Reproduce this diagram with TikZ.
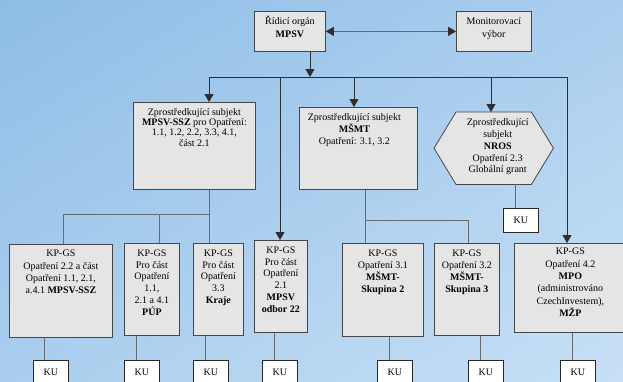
\documentclass[tikz,border=0pt]{standalone}
\usepackage{fontspec}
\setmainfont{Liberation Serif}
\usetikzlibrary{arrows.meta,calc,shadings}
\definecolor{bgA}{RGB}{143,189,230}
\definecolor{bgB}{RGB}{200,224,246}
\definecolor{bgM}{RGB}{170,206,238}
\definecolor{boxfill}{RGB}{229,229,229}
\definecolor{boxline}{RGB}{70,70,70}
\definecolor{conn}{RGB}{105,105,110}
\definecolor{arr}{RGB}{45,45,50}
\begin{document}
\begin{tikzpicture}[x=1pt,y=-1pt,
  box/.style={draw=boxline, fill=boxfill, line width=0.8pt, inner sep=0pt, anchor=north west},
  ghost/.style={inner sep=0pt, anchor=north west},
  kubox/.style={draw=black!85, fill=white, line width=0.8pt, inner sep=0pt, anchor=north west,
    minimum width=35pt, minimum height=24pt, font=\fontsize{10}{12}\selectfont},
  txt/.style={anchor=north, inner sep=0pt, align=center, font=\fontsize{10}{11.8}\selectfont},
  conline/.style={draw=conn, line width=0.8pt},
  arrline/.style={draw=arr, line width=0.8pt, -{Triangle[width=9pt,length=8pt]}},
  dblline/.style={draw=conn, line width=0.8pt, {Triangle[width=9pt,length=8pt,fill=arr,color=arr]}-{Triangle[width=9pt,length=8pt,fill=arr,color=arr]}},
]
\clip (0,0) rectangle (623,381);
\useasboundingbox (0,0) rectangle (623,381);
\shade[upper left=bgA, lower right=bgB, upper right=bgM, lower left=bgM] (0,0) rectangle (623,381);

% top level
\node[box, minimum width=71pt, minimum height=40pt] (mpsv) at (254,11) {};
\node[txt, font=\fontsize{10}{13.5}\selectfont] at ([yshift=-4.5pt]mpsv.north) {Řídicí orgán\\\textbf{MPSV}};
\node[box, minimum width=75pt, minimum height=40pt] (mon) at (456,11) {};
\node[txt, font=\fontsize{10}{13}\selectfont] at ([yshift=-6.5pt]mon.north) {Monitorovací\\výbor};
\draw[dblline] (mpsv) -- (mon);

% bus
\coordinate (j0) at (310,77);
\coordinate (bL) at (209,77);
\coordinate (bR) at (567,77);
\coordinate (bA) at (280,77);
\coordinate (bB) at (354,77);
\coordinate (bC) at (491,77);
\draw[arrline] (mpsv.south -| j0) -- (j0);
\draw[draw=arr, line width=0.8pt] (bL) -- (bR);

% second level
\node[box, minimum width=122pt, minimum height=87pt] (ssz) at (133,102) {};
\node[txt, font=\fontsize{10}{10.4}\selectfont] at ([yshift=-6pt]ssz.north) {Zprostředkující subjekt\\\textbf{MPSV-SSZ} pro Opatření:\\1.1, 1.2, 2.2, 3.3, 4.1,\\část 2.1};
\node[box, minimum width=118pt, minimum height=82pt] (msmt) at (299,107) {};
\node[txt, font=\fontsize{10}{12.2}\selectfont] at ([xshift=-4pt,yshift=-6pt]msmt.north) {Zprostředkující subjekt\\\textbf{MŠMT}\\Opatření: 3.1, 3.2};
\node[ghost, minimum width=119pt, minimum height=72pt] (nros) at (434,112) {};
\draw[draw=boxline, fill=boxfill, line width=0.8pt] (nros.west) -- ($(nros.north west)+(22,0)$) -- ($(nros.north east)+(-22,0)$) -- (nros.east) -- ($(nros.south east)+(-22,0)$) -- ($(nros.south west)+(22,0)$) -- cycle;
\node[txt, font=\fontsize{10}{11.8}\selectfont] at ([xshift=4pt,yshift=-6.5pt]nros.north) {Zprostředkující\\subjekt\\\textbf{NROS}\\Opatření 2.3\\Globální grant};
\node[kubox] (ku0) at (503,208) {KU};

\draw[arrline] (bL) -- (ssz.north -| bL);
\draw[arrline] (bB) -- (msmt.north -| bB);
\draw[arrline] (bC) -- (nros.north -| bC);

% third level
\node[box, minimum width=103pt, minimum height=93pt] (b1) at (9,244) {};
\node[txt, font=\fontsize{10}{12.2}\selectfont] at ([yshift=-6pt]b1.north) {KP-GS\\Opatření 2.2 a část\\Opatření 1.1, 2.1,\\a.4.1 \textbf{MPSV-SSZ}};
\node[box, minimum width=55pt, minimum height=92pt] (b2) at (124,243) {};
\node[txt] at ([yshift=-6.5pt]b2.north) {KP-GS\\Pro část\\Opatření\\1.1,\\2.1 a 4.1\\\textbf{PÚP}};
\node[box, minimum width=50pt, minimum height=92pt] (b3) at (193,243) {};
\node[txt] at ([yshift=-6.5pt]b3.north) {KP-GS\\Pro část\\Opatření\\3.3\\\textbf{Kraje}};
\node[box, minimum width=53pt, minimum height=92pt] (odb) at (254,240) {};
\node[txt] at ([yshift=-6.5pt]odb.north) {KP-GS\\Pro část\\Opatření\\2.1\\\textbf{MPSV}\\\textbf{odbor 22}};
\node[box, minimum width=81pt, minimum height=93pt] (b31) at (342,243) {};
\node[txt, font=\fontsize{10}{12}\selectfont] at ([yshift=-6.5pt]b31.north) {KP-GS\\Opatření 3.1\\\textbf{MŠMT-}\\\textbf{Skupina 2}};
\node[box, minimum width=65pt, minimum height=92pt] (b32) at (434,243) {};
\node[txt, font=\fontsize{10}{12}\selectfont] at ([yshift=-6.5pt]b32.north) {KP-GS\\Opatření 3.2\\\textbf{MŠMT-}\\\textbf{Skupina 3}};
\node[box, minimum width=112pt, minimum height=89pt] (mpo) at (514,243) {};
\node[txt, font=\fontsize{10}{12.3}\selectfont] at ([yshift=-5pt]mpo.north) {KP-GS\\Opatření 4.2\\\textbf{MPO}\\(administrováno\\CzechInvestem),\\\textbf{MŽP}};

\draw[arrline] (bA) -- (odb.north -| bA);
\draw[arrline] (bR) -- (mpo.north -| bR);

% lower tree from SSZ
\coordinate (s0) at (209,214);
\coordinate (s1) at (63,214);
\coordinate (s2) at (159,214);
\draw[conline] (ssz.south -| s0) -- (b3.north -| s0);
\draw[conline] (s0) -- (s1) -- (b1.north -| s1);
\draw[conline] (s2) -- (b2.north -| s2);

% lower tree from MSMT
\coordinate (m0) at (365,220);
\coordinate (m1) at (468,220);
\draw[conline] (msmt.south -| m0) -- (b31.north -| m0);
\draw[conline] (m0) -- (m1) -- (b32.north -| m1);

% NROS to KU
\coordinate (n0) at (515,190);
\draw[conline] (nros.south -| n0) -- (ku0.north -| n0);

% KU boxes at bottom
\node[kubox] (ku1) at (33,360) {KU};
\node[kubox] (ku2) at (124,360) {KU};
\node[kubox] (ku3) at (193,360) {KU};
\node[kubox] (ku4) at (262,360) {KU};
\node[kubox] (ku5) at (377,360) {KU};
\node[kubox] (ku6) at (468,360) {KU};
\node[kubox] (ku7) at (560,360) {KU};
\coordinate (k1) at (44,350);
\coordinate (k2) at (136,350);
\coordinate (k3) at (205,350);
\coordinate (k4) at (274,350);
\coordinate (k5) at (389,350);
\coordinate (k6) at (480,350);
\coordinate (k7) at (572,350);
\draw[conline] (b1.south -| k1) -- (ku1.north -| k1);
\draw[conline] (b2.south -| k2) -- (ku2.north -| k2);
\draw[conline] (b3.south -| k3) -- (ku3.north -| k3);
\draw[conline] (odb.south -| k4) -- (ku4.north -| k4);
\draw[conline] (b31.south -| k5) -- (ku5.north -| k5);
\draw[conline] (b32.south -| k6) -- (ku6.north -| k6);
\draw[conline] (mpo.south -| k7) -- (ku7.north -| k7);
\end{tikzpicture}
\end{document}
